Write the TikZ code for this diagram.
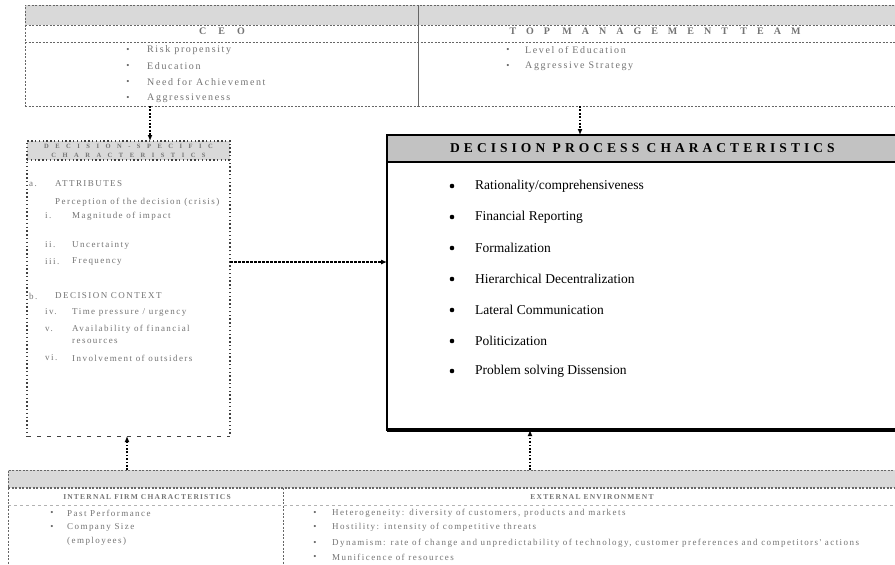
\documentclass[tikz,border=0pt]{standalone}
\usepackage{fontspec}
\setmainfont{Liberation Serif}
\newfontfamily\titlefont{Liberation Serif}[LetterSpace=30]
\newfontfamily\capsfont{Liberation Serif}[LetterSpace=100]
\newfontfamily\smallfont{Liberation Serif}[LetterSpace=16]
\usetikzlibrary{arrows.meta}

\begin{document}
\begin{tikzpicture}[x=1pt,y=-1pt,
  softbox/.style={draw=black!60, line width=0.8pt, dash pattern=on 2pt off 1.5pt, inner sep=0pt, outer sep=0pt},
  dotbox/.style={draw=black!75, line width=1.4pt, dash pattern=on 1.4pt off 2.4pt, inner sep=0pt, outer sep=0pt},
  softline/.style={draw=black!60, line width=0.8pt, dash pattern=on 2pt off 1.5pt},
  mainbox/.style={draw=black, line width=2.6pt, inner sep=0pt, outer sep=0pt},
  band/.style={fill=black!15},
  hdband/.style={fill=black!24},
  flow/.style={line width=1.7pt, dash pattern=on 1.7pt off 1.7pt, -{Latex[length=6pt,width=5pt]}},
  sideflow/.style={line width=1.1pt, dash pattern=on 2.5pt off 1.5pt, -{Latex[length=6pt,width=5pt]}},
  faint/.style={text=black!55, font=\smallfont\fontsize{10}{12}\selectfont, inner sep=0pt, anchor=west},
  faintsm/.style={faint, font=\smallfont\fontsize{9}{11}\selectfont},
  fainthead/.style={text=black!55, font=\capsfont\bfseries\fontsize{10}{12}\selectfont, inner sep=0pt},
  faintcaps/.style={text=black!55, font=\capsfont\bfseries\fontsize{6.5}{7}\selectfont, inner sep=0pt},
  subhead/.style={text=black!55, font=\smallfont\bfseries\fontsize{7.5}{9}\selectfont, inner sep=0pt},
  fbullet/.style={text=black!60, font=\fontsize{9}{11}\selectfont, inner sep=0pt},
  maintext/.style={font=\fontsize{13.5}{16}\selectfont, inner sep=0pt, anchor=west},
  mainbullet/.style={circle, fill=black, inner sep=0pt, minimum size=4.6pt},
  title/.style={font=\titlefont\bfseries\fontsize{13.5}{16}\selectfont, inner sep=0pt, anchor=west},
]
\useasboundingbox (0,0) rectangle (895,565);
\clip (0,0) rectangle (895,565);

% ---------- shaded header bands ----------
\fill[band] (25,5) rectangle (910,25);
\fill[band] (27,141) rectangle (230,160);
\fill[hdband] (387,135) rectangle (910,162);
\fill[band] (8,470) rectangle (910,488);

% ---------- boxes ----------
\node[softbox, minimum width=393pt, minimum height=101pt] (ceo) at (221.5,55.5) {};
\node[softbox, minimum width=492pt, minimum height=101pt] (tmt) at (664,55.5) {};
\node[dotbox, minimum width=203pt, minimum height=295pt] (dsc) at (128.5,288.5) {};
\node[mainbox, minimum width=523pt, minimum height=295pt] (dpc) at (648.5,282.5) {};
\node[softbox, minimum width=902pt, minimum height=110pt] (ctx) at (459,525) {};

% inner rules
\draw[softline] (25,25) -- (910,25);
\draw[softline] (25,42) -- (910,42);
\draw[dotbox] (27,160) -- (230,160);
\draw[white, line width=2.2pt] (dsc.south west) -- (dsc.south east);
\draw[black!75, line width=1pt, dash pattern=on 4pt off 6pt] (dsc.south west) -- (dsc.south east);
\coordinate (hs) at (0,162);
\draw[line width=2.6pt] (dpc.west |- hs) -- (dpc.east |- hs);
\draw[line width=4pt] (dpc.south west) -- (dpc.south east);
\draw[softline, line width=1.2pt] (8,488) -- (910,488);
\draw[black!30, line width=0.5pt, dash pattern=on 3pt off 3pt] (8,505) -- (910,505);
\draw[softline] (283,488) -- (283,580);

% ---------- CEO ----------
\node[fainthead] (ceoh) at (222,31) {C\hspace{12pt}E\hspace{12pt}O};
\node[fbullet] (cb1) at (128,50) {\textbullet};
\node[faint] (ct1) at (147,50) {Risk propensity};
\node[fbullet] (cb2) at (128,66) {\textbullet};
\node[faint] (ct2) at (147,66) {Education};
\node[fbullet] (cb3) at (128,82) {\textbullet};
\node[faint] (ct3) at (147,82) {Need for Achievement};
\node[fbullet] (cb4) at (128,98) {\textbullet};
\node[faint] (ct4) at (147,98) {Aggressiveness};

% ---------- top management team ----------
\node[fainthead] (tmth) at (655,31) {TOP MANAGEMENT TEAM};
\node[fbullet] (tb1) at (508,50) {\textbullet};
\node[faint] (tt1) at (525,50) {Level of Education};
\node[fbullet] (tb2) at (508,66) {\textbullet};
\node[faint] (tt2) at (525,66) {Aggressive Strategy};

% ---------- decision-specific characteristics ----------
\node[faintcaps] (dh1) at (128.5,146) {DECISION-SPECIFIC};
\node[faintcaps] (dh2) at (128.5,155) {CHARACTERISTICS};
\node[faintsm] (dla) at (29,184) {a.};
\node[faintsm] (dta) at (55,184) {ATTRIBUTES};
\node[faintsm] (dt0) at (55,202) {Perception of the decision (crisis)};
\node[faintsm] (dl1) at (45,216) {i.};
\node[faintsm] (dt1) at (72,216) {Magnitude of impact};
\node[faintsm] (dl2) at (45,245) {ii.};
\node[faintsm] (dt2) at (72,245) {Uncertainty};
\node[faintsm] (dl3) at (45,262) {iii.};
\node[faintsm] (dt3) at (72,262) {Frequency};
\node[faintsm] (dlb) at (29,296) {b.};
\node[faintsm] (dtb) at (55,296) {DECISION CONTEXT};
\node[faintsm] (dl4) at (45,312) {iv.};
\node[faintsm] (dt4) at (72,312) {Time pressure / urgency};
\node[faintsm] (dl5) at (45,329) {v.};
\node[faintsm] (dt5) at (72,329) {Availability of financial};
\node[faintsm] (dt5b) at (72,341) {resources};
\node[faintsm] (dl6) at (45,358) {vi.};
\node[faintsm] (dt6) at (72,358) {Involvement of outsiders};

% ---------- decision process characteristics ----------
\node[title] (dpch) at (450,148) {DECISION PROCESS CHARACTERISTICS};
\node[mainbullet] (mb1) at (452,186) {};
\node[maintext] (mt1) at (475,186) {Rationality/comprehensiveness};
\node[mainbullet] (mb2) at (452,217) {};
\node[maintext] (mt2) at (475,217) {Financial Reporting};
\node[mainbullet] (mb3) at (452,248) {};
\node[maintext] (mt3) at (475,248) {Formalization};
\node[mainbullet] (mb4) at (452,279) {};
\node[maintext] (mt4) at (475,279) {Hierarchical Decentralization};
\node[mainbullet] (mb5) at (452,310) {};
\node[maintext] (mt5) at (475,310) {Lateral Communication};
\node[mainbullet] (mb6) at (452,341) {};
\node[maintext] (mt6) at (475,341) {Politicization};
\node[mainbullet] (mb7) at (452,371) {};
\node[maintext] (mt7) at (475,371) {Problem solving Dissension};

% ---------- context ----------
\node[subhead] (ih) at (147,497) {INTERNAL FIRM CHARACTERISTICS};
\node[fbullet] (ib1) at (52,513) {\textbullet};
\node[faintsm] (it1) at (67,513) {Past Performance};
\node[fbullet] (ib2) at (52,527) {\textbullet};
\node[faintsm] (it2) at (67,527) {Company Size};
\node[faintsm] (it2b) at (67,541) {(employees)};
\node[subhead] (eh) at (592,497) {EXTERNAL ENVIRONMENT};
\node[fbullet] (eb1) at (315,513) {\textbullet};
\node[faintsm] (et1) at (332,513) {Heterogeneity: diversity of customers, products and markets};
\node[fbullet] (eb2) at (315,527) {\textbullet};
\node[faintsm] (et2) at (332,527) {Hostility: intensity of competitive threats};
\node[fbullet] (eb3) at (315,543) {\textbullet};
\node[faintsm] (et3) at (332,543) {Dynamism: rate of change and unpredictability of technology, customer preferences and competitors' actions};
\node[fbullet] (eb4) at (315,557) {\textbullet};
\node[faintsm] (et4) at (332,557) {Munificence of resources};

% ---------- connectors ----------
\coordinate (c1) at (150,0);
\coordinate (c2) at (580,0);
\coordinate (c3) at (0,262);
\coordinate (c4) at (530,0);
\coordinate (c5) at (127,0);
\draw[flow] (ceo.south -| c1) -- (dsc.north -| c1);
\draw[flow] (tmt.south -| c2) -- (dpc.north -| c2);
\draw[sideflow] (dsc.east |- c3) -- (dpc.west |- c3);
\draw[flow] (ctx.north -| c4) -- (dpc.south -| c4);
\draw[flow] (ctx.north -| c5) -- (dsc.south -| c5);
\end{tikzpicture}
\end{document}
